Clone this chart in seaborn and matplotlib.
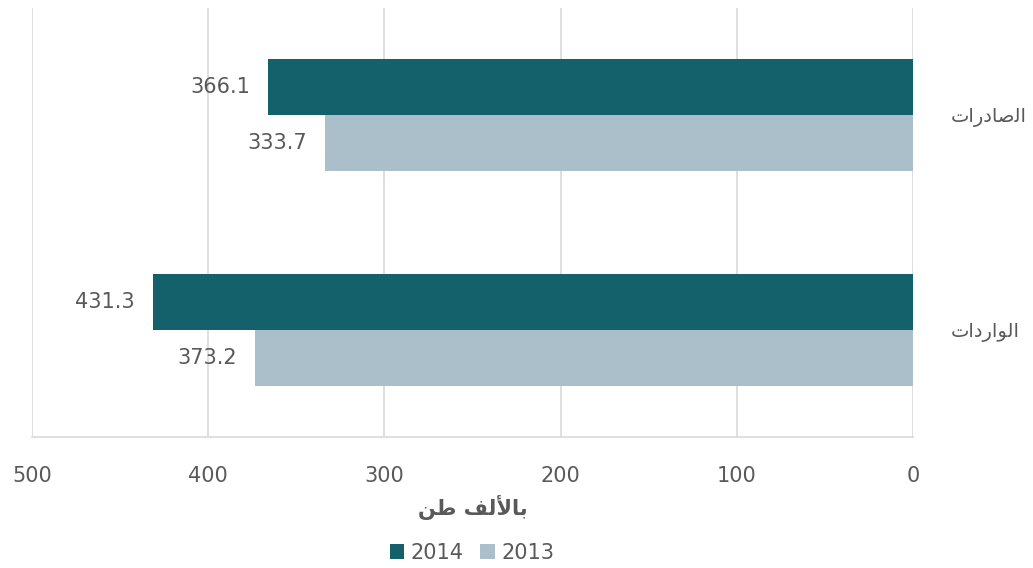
import matplotlib
matplotlib.use("Agg")
import matplotlib.pyplot as plt
import seaborn as sns
import pandas as pd

# Arabic text given in visual order using presentation forms (matplotlib has no shaping)
categories = ["\uFE95\uFE8D\uFEAD\uFEA9\uFE8E\uFEBB\uFEDF\uFE8D",   # الصادرات
              "\uFE95\uFE8D\uFEA9\uFEAD\uFE8D\uFEEE\uFEDF\uFE8D"]   # الواردات
series_names = ["2014", "2013"]
values_2014 = [366.1, 431.3]
values_2013 = [333.7, 373.2]
x_ticks = [0, 100, 200, 300, 400, 500]
x_label = "\uFEE6\uFEC3 \uFED2\uFEDF\uFEF7\uFE8E\uFE91"  # بالألف طن

colors = ["#14616B", "#ABBFCA"]
text_color = "#595959"

df = pd.DataFrame({
    "category": categories * 2,
    "year": [series_names[0]] * 2 + [series_names[1]] * 2,
    "value": values_2014 + values_2013,
})

sns.set_theme(style="white")
plt.rcParams["font.family"] = ["DejaVu Sans"]

fig = plt.figure(figsize=(10.33, 5.68), dpi=100)
ax = fig.add_axes([32 / 1033, 1 - 437 / 568, (913 - 32) / 1033, (437 - 8) / 568])

sns.barplot(data=df, y="category", x="value", hue="year", hue_order=series_names,
            palette=colors, orient="h", width=0.523, saturation=1, ax=ax,
            legend=True, linewidth=0)

ax.set_xlim(500, 0)
ax.set_xticks(x_ticks)
ax.set_xticklabels([str(t) for t in x_ticks], fontsize=15, color=text_color)
ax.grid(axis="x", color="#D9D9D9", linewidth=1.2)
ax.set_axisbelow(True)
for s in ["top", "left", "right"]:
    ax.spines[s].set_visible(False)
ax.spines["bottom"].set_color("#D9D9D9")
ax.spines["bottom"].set_linewidth(1.2)
ax.tick_params(axis="x", length=0, pad=21)

ax.yaxis.tick_right()
ax.set_ylabel("")
ax.tick_params(axis="y", length=0, pad=27, labelsize=14, labelcolor=text_color)
for lbl in ax.get_yticklabels():
    lbl.set_color(text_color)

for cont in ax.containers:
    ax.bar_label(cont, fmt="%.1f", padding=13, fontsize=15, color=text_color)

ax.set_xlabel(x_label, fontsize=15, fontweight="bold", color=text_color, labelpad=6)

handles, labels = ax.get_legend_handles_labels()
ax.legend_.remove()
fig.legend(handles, labels, loc="center", bbox_to_anchor=(472 / 1033, 1 - 553 / 568),
           ncol=2, frameon=False, fontsize=15, handlelength=0.7, handleheight=0.7,
           handletextpad=0.3, columnspacing=0.8, labelcolor=text_color)

fig.savefig("out.png", dpi=100)
